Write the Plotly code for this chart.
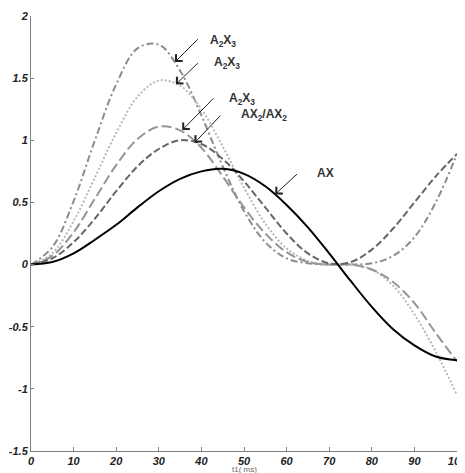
import plotly.graph_objects as go

# time axis (ms)
t_ms = [0, 5, 10, 15, 20, 25, 30, 35, 40, 45, 50, 55, 60, 65, 70, 75, 80, 85, 90, 95, 100]

# series values
ax_vals = [0, 0.02, 0.09, 0.20, 0.32, 0.46, 0.59, 0.69, 0.75, 0.77, 0.73, 0.63, 0.48, 0.30, 0.09,
           -0.13, -0.34, -0.52, -0.65, -0.74, -0.77]
ax2_vals = [0, 0.05, 0.18, 0.37, 0.59, 0.79, 0.93, 1.00, 0.97, 0.85, 0.67, 0.46, 0.25, 0.09, 0.01,
            0.02, 0.12, 0.29, 0.50, 0.71, 0.89]
a2x3_dashdot = [0, 0.14, 0.51, 1.00, 1.45, 1.74, 1.77, 1.56, 1.20, 0.79, 0.43, 0.18, 0.05, 0.01, 0.00,
                0.00, 0.01, 0.07, 0.22, 0.50, 0.89]
a2x3_dotted = [0, 0.09, 0.35, 0.70, 1.06, 1.35, 1.48, 1.44, 1.25, 0.95, 0.62, 0.33, 0.13, 0.03, 0.00,
               0.00, -0.04, -0.17, -0.40, -0.70, -1.05]
a2x3_longdash = [0, 0.07, 0.26, 0.53, 0.80, 1.01, 1.11, 1.08, 0.94, 0.71, 0.46, 0.25, 0.10, 0.02, 0.00,
                 0.00, -0.04, -0.14, -0.31, -0.55, -0.78]

x_ticks = [0, 10, 20, 30, 40, 50, 60, 70, 80, 90, 100]
y_ticks = [-1.5, -1, -0.5, 0, 0.5, 1, 1.5, 2]
y_tick_text = ['-1.5', '-1', '-0.5', '0', '0.5', '1', '1.5', '2']

# labels: (text, text x, text y, arrow tail x, tail y, arrow tip x, tip y)
labels = [
    ('A<sub>2</sub>X<sub>3</sub>', 41.6, 1.80, 39.5, 1.825, 33.8, 1.63),
    ('A<sub>2</sub>X<sub>3</sub>', 42.5, 1.62, 39.5, 1.632, 34.0, 1.45),
    ('A<sub>2</sub>X<sub>3</sub>', 46.0, 1.335, 43.2, 1.35, 35.5, 1.082),
    ('AX<sub>2</sub>/AX<sub>2</sub>', 48.9, 1.20, 44.8, 1.211, 38.4, 0.98),
    ('AX', 66.7, 0.74, 62.8, 0.739, 57.3, 0.565),
]

fig = go.Figure()
fig.add_trace(go.Scatter(x=t_ms, y=a2x3_dashdot, mode='lines', line_shape='spline',
                         line=dict(color='#8c8c8c', width=2, dash='7px,3px,2px,3px')))
fig.add_trace(go.Scatter(x=t_ms, y=a2x3_dotted, mode='lines', line_shape='spline',
                         line=dict(color='#b8b8b8', width=2, dash='2px,2px')))
fig.add_trace(go.Scatter(x=t_ms, y=a2x3_longdash, mode='lines', line_shape='spline',
                         line=dict(color='#959595', width=2, dash='10px,4px')))
fig.add_trace(go.Scatter(x=t_ms, y=ax2_vals, mode='lines', line_shape='spline',
                         line=dict(color='#666666', width=2, dash='7px,3px')))
fig.add_trace(go.Scatter(x=t_ms, y=ax_vals, mode='lines', line_shape='spline',
                         line=dict(color='#000000', width=2)))

for txt, tx, ty, x0, y0, x1, y1 in labels:
    fig.add_annotation(x=tx, y=ty, xref='x', yref='y', text=txt, showarrow=False,
                       xanchor='left', yanchor='middle',
                       font=dict(family='Liberation Sans, Arial', size=12, color='#333333', weight='bold'))
    fig.add_annotation(x=x1, y=y1, ax=x0, ay=y0, xref='x', yref='y', axref='x', ayref='y',
                       text='', showarrow=True, arrowhead=4, arrowsize=1.8, arrowwidth=1,
                       arrowcolor='#222222')

fig.add_annotation(x=0.5, y=-0.0425, xref='paper', yref='paper', text='t1( ms)', showarrow=False,
                   xanchor='center', yanchor='middle',
                   font=dict(family='Liberation Sans, Arial', size=8, color='#666666'))

tick_font = dict(family='Liberation Sans, Arial', size=11, color='#222222', style='italic', weight='bold')
fig.update_xaxes(range=[0, 100], tickvals=x_ticks, ticks='inside', ticklen=4, tickcolor='#808080',
                 showline=True, linecolor='#808080', linewidth=1, showgrid=False, zeroline=False,
                 tickfont=tick_font, automargin=False, ticklabeloverflow='allow')
fig.update_yaxes(range=[-1.5, 2], tickvals=y_ticks, ticktext=y_tick_text, ticks='inside', ticklen=3,
                 tickcolor='#808080', showline=True, linecolor='#808080', linewidth=1,
                 showgrid=False, zeroline=False, tickfont=tick_font, automargin=False,
                 ticklabeloverflow='allow')
fig.update_layout(width=457, height=465, margin=dict(l=23, r=8, t=8, b=22),
                  plot_bgcolor='white', paper_bgcolor='white', showlegend=False)
fig.write_html('out.html')
